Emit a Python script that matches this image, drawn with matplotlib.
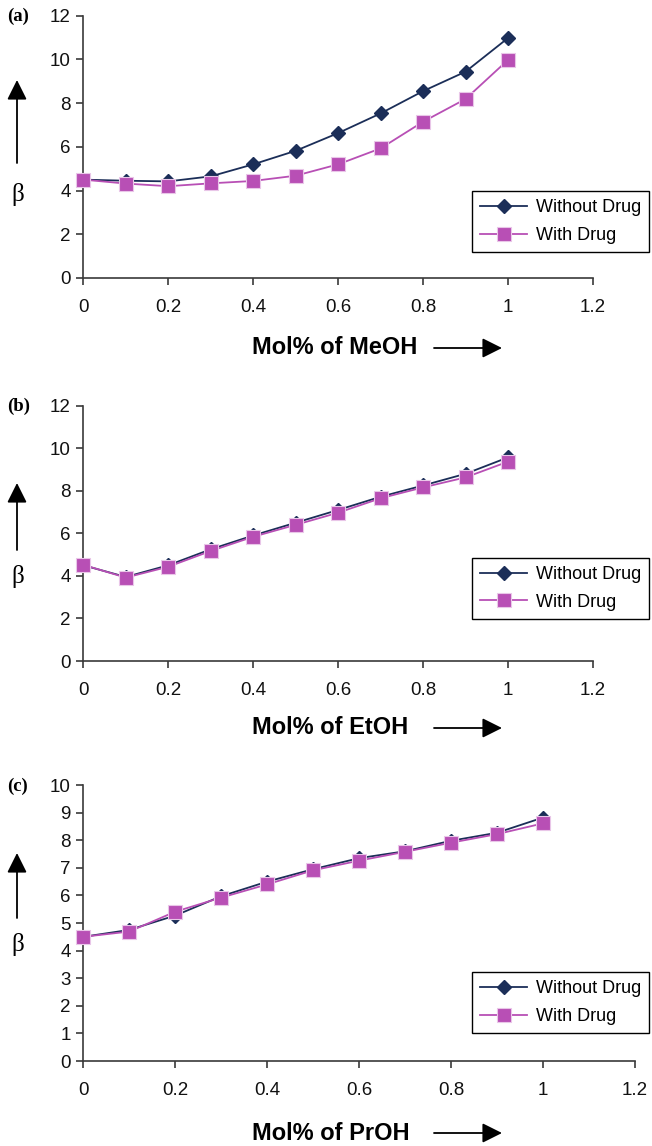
import matplotlib
matplotlib.use("Agg")
import matplotlib.pyplot as plt

# Mole fraction of alcohol
mol_frac = [0, 0.1, 0.2, 0.3, 0.4, 0.5, 0.6, 0.7, 0.8, 0.9, 1.0]

# (a) MeOH
meoh_without = [4.5, 4.45, 4.42, 4.65, 5.2, 5.82, 6.63, 7.53, 8.55, 9.44, 10.98]
meoh_with = [4.5, 4.32, 4.2, 4.33, 4.44, 4.68, 5.2, 5.93, 7.15, 8.19, 9.98]

# (b) EtOH
etoh_without = [4.5, 3.95, 4.5, 5.25, 5.9, 6.5, 7.1, 7.72, 8.25, 8.8, 9.57]
etoh_with = [4.52, 3.92, 4.43, 5.17, 5.84, 6.4, 6.97, 7.65, 8.16, 8.63, 9.37]

# (c) PrOH
proh_without = [4.5, 4.75, 5.27, 5.97, 6.5, 6.95, 7.35, 7.6, 7.98, 8.27, 8.82]
proh_with = [4.5, 4.69, 5.41, 5.92, 6.4, 6.91, 7.26, 7.58, 7.91, 8.22, 8.61]

panel_labels = ["(a)", "(b)", "(c)"]
xlabels = ["Mol% of MeOH", "Mol% of EtOH", "Mol% of PrOH"]
x_ticks = [0, 0.2, 0.4, 0.6, 0.8, 1.0, 1.2]
x_ticklabels = ["0", "0.2", "0.4", "0.6", "0.8", "1", "1.2"]
y_ticks_ab = [0, 2, 4, 6, 8, 10, 12]
y_ticks_c = [0, 1, 2, 3, 4, 5, 6, 7, 8, 9, 10]

W, H = 652, 1146
navy = "#1b2e58"
magenta = "#b84fb5"
axis_col = "#3a3a3a"

plt.rcParams["font.family"] = ["Liberation Sans", "DejaVu Sans"]

fig = plt.figure(figsize=(W / 100, H / 100), dpi=100)

def fx(px):
    return px / W

def fy(py):
    return 1 - py / H

# pixel boxes: left, right, top, bottom
boxes = [(83.3, 593, 15.7, 278), (83.3, 593, 405.7, 661), (83.3, 635, 785, 1061)]
series = [(meoh_without, meoh_with), (etoh_without, etoh_with), (proh_without, proh_with)]
yticks_list = [y_ticks_ab, y_ticks_ab, y_ticks_c]
ylims = [12, 12, 10]
legend_tops = [191, 557.7, 972.3]
label_y = [348, 728, 1133]
beta_y = [195, 577, 945]
arrow_v = [(163, 80), (550, 483), (918, 853)]

for i in range(3):
    l, r, t, b = boxes[i]
    ax = fig.add_axes([fx(l), fy(b), fx(r) - fx(l), fy(t) - fy(b)])
    wo, wi = series[i]
    ax.plot(mol_frac, wo, color=navy, lw=1.3, marker="D", ms=7.5,
            mfc=navy, mec=navy, label="Without Drug", zorder=3)
    ax.plot(mol_frac, wi, color=magenta, lw=1.3, marker="s", ms=9.5,
            mfc=magenta, mec="#e9c6e8", mew=0.8, label="With Drug", zorder=4)
    ax.set_xlim(0, 1.2)
    ax.set_ylim(0, ylims[i])
    ax.set_xticks(x_ticks)
    ax.set_xticklabels(x_ticklabels)
    ax.set_yticks(yticks_list[i])
    for s in ["top", "right"]:
        ax.spines[s].set_visible(False)
    for s in ["left", "bottom"]:
        ax.spines[s].set_color(axis_col)
        ax.spines[s].set_linewidth(1.2)
    ax.spines["left"].set_zorder(1)
    ax.tick_params(axis="both", direction="out", length=5, width=1.2,
                   color=axis_col, labelsize=13.5, labelcolor="#111111")
    ax.tick_params(axis="x", pad=10)
    ax.tick_params(axis="y", pad=4)
    for ln in ax.lines:
        ln.set_clip_on(False)

    leg = fig.legend(handles=ax.lines, loc="upper left",
                     bbox_to_anchor=(fx(472), fy(legend_tops[i])),
                     bbox_transform=fig.transFigure, fontsize=13,
                     frameon=True, fancybox=False, framealpha=1,
                     edgecolor="black", borderaxespad=0, borderpad=0.45,
                     handlelength=2.6, handletextpad=0.5, labelspacing=0.6)
    leg.get_frame().set_linewidth(1.0)

    # panel label
    fig.text(fx(7), fy(t + 1), panel_labels[i], fontsize=13.5, fontweight="bold",
             family="Liberation Serif", ha="left", va="center")
    # beta with upward arrow
    fig.text(fx(18), fy(beta_y[i]), "β", fontsize=18, family="Liberation Serif",
             ha="center", va="center")
    yb, ytp = arrow_v[i]
    fig.add_artist(plt.matplotlib.patches.FancyArrowPatch(
        (fx(17), fy(yb)), (fx(17), fy(ytp)), transform=fig.transFigure,
        arrowstyle="-|>,head_length=0.6,head_width=0.3", mutation_scale=20,
        lw=1.3, color="black", shrinkA=0, shrinkB=0))
    # x label with right arrow
    fig.text(fx(252), fy(label_y[i]), xlabels[i], fontsize=17, fontweight="bold",
             ha="left", va="center")
    fig.add_artist(plt.matplotlib.patches.FancyArrowPatch(
        (fx(434), fy(label_y[i])), (fx(502), fy(label_y[i])), transform=fig.transFigure,
        arrowstyle="-|>,head_length=0.6,head_width=0.3", mutation_scale=20,
        lw=1.3, color="black", shrinkA=0, shrinkB=0))

fig.savefig("out.png", dpi=100)
